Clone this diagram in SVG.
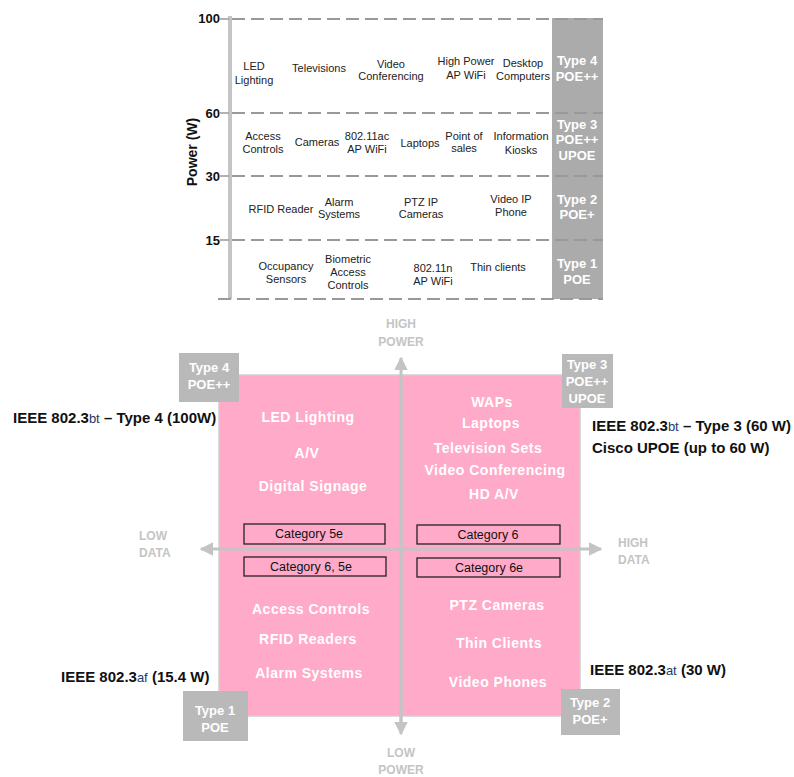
<svg xmlns="http://www.w3.org/2000/svg" width="794" height="777" viewBox="0 0 794 777">
<style>
.lbl{font-family:"Liberation Sans",Arial,sans-serif;font-size:11px;fill:#222;text-anchor:middle}
.ax{font-family:"Liberation Sans",Arial,sans-serif;font-size:13px;font-weight:bold;fill:#111;text-anchor:end}
.band{font-family:"Liberation Sans",Arial,sans-serif;font-size:13px;font-weight:bold;fill:#fff;text-anchor:middle}
.dash{stroke:#999;stroke-width:2;stroke-dasharray:13,6;fill:none}
.pk{font-family:"Liberation Sans",Arial,sans-serif;font-size:14px;font-weight:bold;fill:#fff;text-anchor:middle;letter-spacing:0.5px}
.cat{fill:none;stroke:#222;stroke-width:1.3}
.catt{font-family:"Liberation Sans",Arial,sans-serif;font-size:12.5px;fill:#111;text-anchor:middle}
.tbox{fill:#b9b9b9}
.tt{font-family:"Liberation Sans",Arial,sans-serif;font-size:13px;font-weight:bold;fill:#fff;text-anchor:middle}
.axl{font-family:"Liberation Sans",Arial,sans-serif;font-size:12px;font-weight:bold;fill:#c4c4c4}
.ieee{font-family:"Liberation Sans",Arial,sans-serif;font-size:15px;font-weight:bold;fill:#111}
.sub{font-weight:normal;font-size:13px;fill:#223a6a}
.axis{stroke:#c4c4c4;stroke-width:3;fill:none}
</style>
<defs>
<marker id="ah" viewBox="0 0 10 10" refX="9" refY="5" markerWidth="4.5" markerHeight="4.5" orient="auto" markerUnits="strokeWidth">
<path d="M0,0 L10,5 L0,10 z" fill="#c4c4c4"/>
</marker>
</defs>

<g id="power-chart">
<rect x="552" y="18" width="51" height="281" fill="#ababab"/>
<line x1="230" y1="16" x2="230" y2="299" stroke="#c4c4c4" stroke-width="4"/>
<line class="dash" x1="232" y1="19" x2="603" y2="19"/>
<line class="dash" x1="232" y1="113" x2="603" y2="113"/>
<line class="dash" x1="232" y1="176" x2="603" y2="176"/>
<line class="dash" x1="232" y1="240" x2="603" y2="240"/>
<line class="dash" x1="218" y1="299" x2="603" y2="299"/>
<g stroke="#999" stroke-width="1.5">
<line x1="220" y1="19" x2="229" y2="19"/>
<line x1="220" y1="113" x2="229" y2="113"/>
<line x1="220" y1="176" x2="229" y2="176"/>
<line x1="220" y1="240" x2="229" y2="240"/>
</g>
<text class="ax" x="220" y="23">100</text>
<text class="ax" x="220" y="118">60</text>
<text class="ax" x="220" y="181">30</text>
<text class="ax" x="220" y="245">15</text>
<text transform="translate(197,152) rotate(-90)" font-family="Liberation Sans,Arial,sans-serif" font-size="14" font-weight="bold" fill="#111" text-anchor="middle">Power (W)</text>

<text class="band" x="577" y="65">Type 4</text>
<text class="band" x="577" y="81">POE++</text>
<text class="band" x="577" y="129">Type 3</text>
<text class="band" x="577" y="144">POE++</text>
<text class="band" x="577" y="160">UPOE</text>
<text class="band" x="577" y="204">Type 2</text>
<text class="band" x="577" y="219">POE+</text>
<text class="band" x="577" y="268">Type 1</text>
<text class="band" x="577" y="284">POE</text>

<text class="lbl" x="254" y="70">LED</text>
<text class="lbl" x="254" y="84">Lighting</text>
<text class="lbl" x="319" y="72">Televisions</text>
<text class="lbl" x="391" y="68">Video</text>
<text class="lbl" x="391" y="80">Conferencing</text>
<text class="lbl" x="466" y="65">High Power</text>
<text class="lbl" x="466" y="79">AP WiFi</text>
<text class="lbl" x="523" y="67">Desktop</text>
<text class="lbl" x="523" y="80">Computers</text>

<text class="lbl" x="263" y="140">Access</text>
<text class="lbl" x="263" y="153">Controls</text>
<text class="lbl" x="317" y="146">Cameras</text>
<text class="lbl" x="367" y="140">802.11ac</text>
<text class="lbl" x="367" y="153">AP WiFi</text>
<text class="lbl" x="420" y="147">Laptops</text>
<text class="lbl" x="464" y="140">Point of</text>
<text class="lbl" x="464" y="152">sales</text>
<text class="lbl" x="521" y="140">Information</text>
<text class="lbl" x="521" y="154">Kiosks</text>

<text class="lbl" x="281" y="213">RFID Reader</text>
<text class="lbl" x="339" y="206">Alarm</text>
<text class="lbl" x="339" y="218">Systems</text>
<text class="lbl" x="421" y="206">PTZ IP</text>
<text class="lbl" x="421" y="218">Cameras</text>
<text class="lbl" x="511" y="203">Video IP</text>
<text class="lbl" x="511" y="216">Phone</text>

<text class="lbl" x="286" y="270">Occupancy</text>
<text class="lbl" x="286" y="283">Sensors</text>
<text class="lbl" x="348" y="263">Biometric</text>
<text class="lbl" x="348" y="276">Access</text>
<text class="lbl" x="348" y="289">Controls</text>
<text class="lbl" x="433" y="272">802.11n</text>
<text class="lbl" x="433" y="285">AP WiFi</text>
<text class="lbl" x="498" y="271">Thin clients</text>
</g>

<g id="quadrant">
<rect x="219" y="375" width="361" height="341" fill="#ffaac8" stroke="#cfcfcf" stroke-width="1.5"/>
</g>

<g id="connectors">
<line class="axis" x1="401" y1="725" x2="401" y2="358" marker-end="url(#ah)"/>
<line class="axis" x1="401" y1="375" x2="401" y2="734" marker-end="url(#ah)"/>
<line class="axis" x1="400" y1="549" x2="201" y2="549" marker-end="url(#ah)"/>
<line class="axis" x1="400" y1="549" x2="601" y2="549" marker-end="url(#ah)"/>
</g>

<g id="axis-labels">
<text class="axl" x="401" y="328" text-anchor="middle">HIGH</text>
<text class="axl" x="401" y="346" text-anchor="middle">POWER</text>
<text class="axl" x="401" y="757" text-anchor="middle">LOW</text>
<text class="axl" x="401" y="774" text-anchor="middle">POWER</text>
<text class="axl" x="139" y="540">LOW</text>
<text class="axl" x="139" y="557">DATA</text>
<text class="axl" x="618" y="547">HIGH</text>
<text class="axl" x="618" y="564">DATA</text>
</g>

<g id="q-high-low">
<text class="pk" x="308" y="422">LED Lighting</text>
<text class="pk" x="307" y="458">A/V</text>
<text class="pk" x="313" y="491">Digital Signage</text>
</g>
<g id="q-high-high">
<text class="pk" x="492" y="407">WAPs</text>
<text class="pk" x="491" y="428">Laptops</text>
<text class="pk" x="488" y="453">Television Sets</text>
<text class="pk" x="495" y="475">Video Conferencing</text>
<text class="pk" x="494" y="499">HD A/V</text>
</g>
<g id="q-low-low">
<text class="pk" x="311" y="614">Access Controls</text>
<text class="pk" x="308" y="644">RFID Readers</text>
<text class="pk" x="309" y="678">Alarm Systems</text>
</g>
<g id="q-low-high">
<text class="pk" x="497" y="610">PTZ Cameras</text>
<text class="pk" x="499" y="648">Thin Clients</text>
<text class="pk" x="498" y="687">Video Phones</text>
</g>

<g id="cat-5e"><rect class="cat" x="244" y="524" width="141" height="20"/><text class="catt" x="309" y="538">Category 5e</text></g>
<g id="cat-6-5e"><rect class="cat" x="244" y="557" width="142" height="19"/><text class="catt" x="311" y="571">Category 6, 5e</text></g>
<g id="cat-6"><rect class="cat" x="417" y="525" width="143" height="19"/><text class="catt" x="488" y="539">Category 6</text></g>
<g id="cat-6e"><rect class="cat" x="417" y="558" width="143" height="19"/><text class="catt" x="489" y="572">Category 6e</text></g>

<g id="type4"><rect class="tbox" x="179" y="353" width="60" height="49"/><text class="tt" x="209" y="372">Type 4</text><text class="tt" x="209" y="389">POE++</text></g>
<g id="type3"><rect class="tbox" x="562" y="354" width="51" height="54"/><text class="tt" x="587" y="369">Type 3</text><text class="tt" x="587" y="386">POE++</text><text class="tt" x="587" y="403">UPOE</text></g>
<g id="type1"><rect class="tbox" x="183" y="691" width="65" height="50"/><text class="tt" x="215" y="715">Type 1</text><text class="tt" x="215" y="732">POE</text></g>
<g id="type2"><rect class="tbox" x="561" y="689" width="59" height="46"/><text class="tt" x="590" y="707">Type 2</text><text class="tt" x="590" y="724">POE+</text></g>

<g id="ieee-type4"><text class="ieee" x="13" y="423">IEEE 802.3<tspan class="sub">bt</tspan> – Type 4 (100W)</text></g>
<g id="ieee-type3"><text class="ieee" x="592" y="431">IEEE 802.3<tspan class="sub">bt</tspan> – Type 3 (60 W)</text><text class="ieee" x="592" y="453">Cisco UPOE (up to 60 W)</text></g>
<g id="ieee-type1"><text class="ieee" x="61" y="682">IEEE 802.3<tspan class="sub">af</tspan> (15.4 W)</text></g>
<g id="ieee-type2"><text class="ieee" x="590" y="675">IEEE 802.3<tspan class="sub">at</tspan> (30 W)</text></g>
</svg>
